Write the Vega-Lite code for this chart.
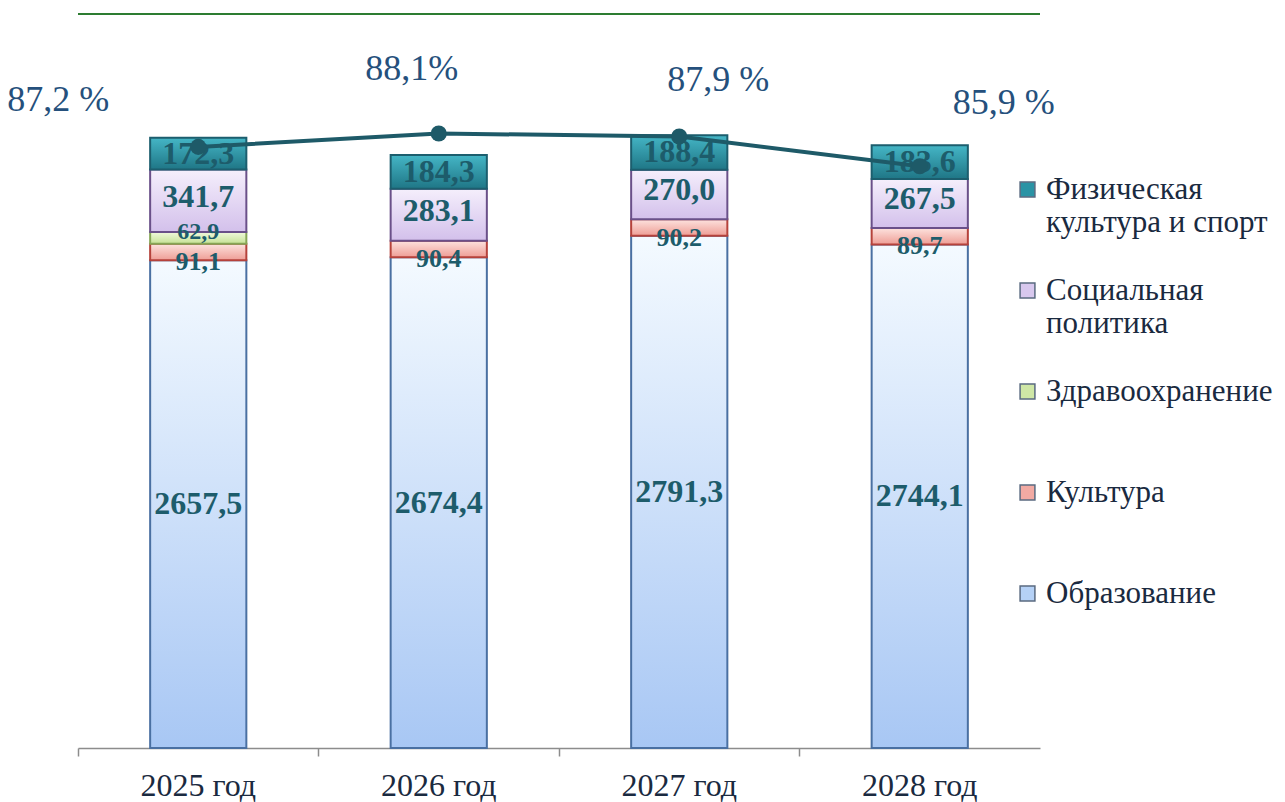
{
  "$schema": "https://vega.github.io/schema/vega-lite/v6.json",
  "width": 962,
  "height": 734,
  "autosize": {"type": "none"},
  "padding": {"left": 78, "top": 14, "right": 245, "bottom": 54},
  "background": "#ffffff",
  "config": {
    "view": {"stroke": null},
    "locale": {"number": {"decimal": ",", "thousands": " ", "grouping": [3], "currency": ["", ""]}},
    "font": "Liberation Serif"
  },
  "datasets": {
    "bars": [
      {"year": "2025 год", "sector": "Образование", "value": 2657.5},
      {"year": "2025 год", "sector": "Культура", "value": 91.1},
      {"year": "2025 год", "sector": "Здравоохранение", "value": 62.9},
      {"year": "2025 год", "sector": "Социальная политика", "value": 341.7},
      {"year": "2025 год", "sector": "Физическая культура и спорт", "value": 172.3},
      {"year": "2026 год", "sector": "Образование", "value": 2674.4},
      {"year": "2026 год", "sector": "Культура", "value": 90.4},
      {"year": "2026 год", "sector": "Социальная политика", "value": 283.1},
      {"year": "2026 год", "sector": "Физическая культура и спорт", "value": 184.3},
      {"year": "2027 год", "sector": "Образование", "value": 2791.3},
      {"year": "2027 год", "sector": "Культура", "value": 90.2},
      {"year": "2027 год", "sector": "Социальная политика", "value": 270.0},
      {"year": "2027 год", "sector": "Физическая культура и спорт", "value": 188.4},
      {"year": "2028 год", "sector": "Образование", "value": 2744.1},
      {"year": "2028 год", "sector": "Культура", "value": 89.7},
      {"year": "2028 год", "sector": "Социальная политика", "value": 267.5},
      {"year": "2028 год", "sector": "Физическая культура и спорт", "value": 183.6}
    ],
    "pct": [
      {"year": "2025 год", "pct": 87.2, "label": "87,2 %"},
      {"year": "2026 год", "pct": 88.1, "label": "88,1%"},
      {"year": "2027 год", "pct": 87.9, "label": "87,9 %"},
      {"year": "2028 год", "pct": 85.9, "label": "85,9 %"}
    ]
  },
  "resolve": {"scale": {"y": "independent"}, "axis": {"y": "independent"}},
  "layer": [
    {
      "data": {"name": "bars"},
      "transform": [
        {"stack": "value", "groupby": ["year"], "as": ["v0", "v1"]},
        {"calculate": "(datum.v0 + datum.v1) / 2", "as": "mid"}
      ],
      "encoding": {
        "x": {
          "field": "year", "type": "nominal", "sort": null,
          "scale": {"paddingInner": 0.6, "paddingOuter": 0.3},
          "axis": {
            "title": null, "labelAngle": 0, "bandPosition": -0.75,
            "domainColor": "#8c8c8c", "domainWidth": 1.5, "tickColor": "#8c8c8c", "tickWidth": 1.5, "tickSize": 8,
            "labelFont": "Liberation Serif", "labelFontSize": 32, "labelColor": "#1a2a40", "labelPadding": 14, "grid": false
          }
        },
        "y": {"field": "v1", "type": "quantitative", "scale": {"domain": [0, 4000], "nice": false}, "axis": null},
        "y2": {"field": "v0"}
      },
      "layer": [
        {
          "mark": {"type": "bar"},
          "encoding": {
            "color": {
              "field": "sector", "type": "nominal",
              "scale": {
                "domain": ["Образование", "Культура", "Здравоохранение", "Социальная политика", "Физическая культура и спорт"],
                "range": ["#b5d1f6", "#f2aaa3", "#cfe7a6", "#d8c8ee", "#2a93a5"]
              },
              "legend": {
                "title": null, "orient": "none", "legendX": 934, "legendY": 160,
                "values": ["Физическая культура и спорт", "Социальная политика", "Здравоохранение", "Культура", "Образование"],
                "symbolType": "square", "symbolSize": 220, "symbolStrokeWidth": 1.5, "symbolStrokeColor": "#5a6a80",
                "labelFont": "Liberation Serif", "labelFontSize": 31, "labelColor": "#1a2a40", "labelLimit": 400,
                "labelOffset": 3, "rowPadding": 36,
                "labelExpr": "datum.label == 'Физическая культура и спорт' ? ['Физическая', 'культура и спорт'] : datum.label == 'Социальная политика' ? ['Социальная', 'политика'] : [datum.label, ' ']"
              }
            }
          }
        },
        {
          "transform": [{"filter": "datum.sector == 'Образование'"}],
          "mark": {"type": "bar", "strokeWidth": 2, "stroke": "#4a70a2",
            "fill": {"gradient": "linear", "x1": 0, "y1": 0, "x2": 0, "y2": 1, "stops": [{"offset": 0, "color": "#f4faff"}, {"offset": 1, "color": "#a8c7f4"}]}}
        },
        {
          "transform": [{"filter": "datum.sector == 'Культура'"}],
          "mark": {"type": "bar", "strokeWidth": 2, "stroke": "#b5423b",
            "fill": {"gradient": "linear", "x1": 0, "y1": 0, "x2": 0, "y2": 1, "stops": [{"offset": 0, "color": "#fde3df"}, {"offset": 1, "color": "#ee9d95"}]}}
        },
        {
          "transform": [{"filter": "datum.sector == 'Здравоохранение'"}],
          "mark": {"type": "bar", "strokeWidth": 2, "stroke": "#86a556",
            "fill": {"gradient": "linear", "x1": 0, "y1": 0, "x2": 0, "y2": 1, "stops": [{"offset": 0, "color": "#f0f9dc"}, {"offset": 1, "color": "#c6e296"}]}}
        },
        {
          "transform": [{"filter": "datum.sector == 'Социальная политика'"}],
          "mark": {"type": "bar", "strokeWidth": 2, "stroke": "#6a5089",
            "fill": {"gradient": "linear", "x1": 0, "y1": 0, "x2": 0, "y2": 1, "stops": [{"offset": 0, "color": "#f5effc"}, {"offset": 1, "color": "#d3c0eb"}]}}
        },
        {
          "transform": [{"filter": "datum.sector == 'Физическая культура и спорт'"}],
          "mark": {"type": "bar", "strokeWidth": 2, "stroke": "#1c5e6e",
            "fill": {"gradient": "linear", "x1": 0, "y1": 0, "x2": 0, "y2": 1, "stops": [{"offset": 0, "color": "#45b6c6"}, {"offset": 1, "color": "#1f7686"}]}}
        },
        {
          "transform": [{"filter": "datum.sector == 'Образование' || datum.sector == 'Физическая культура и спорт'"}],
          "mark": {"type": "text", "font": "Liberation Serif", "fontSize": 32, "fontWeight": "bold", "color": "#1d5c6b", "baseline": "middle"},
          "encoding": {
            "y": {"field": "mid", "type": "quantitative"},
            "y2": null,
            "text": {"field": "value", "type": "quantitative", "format": ".1f"}
          }
        },
        {
          "transform": [{"filter": "datum.sector == 'Социальная политика'"}],
          "mark": {"type": "text", "font": "Liberation Serif", "fontSize": 32, "fontWeight": "bold", "color": "#1d5c6b", "baseline": "middle", "dy": -4},
          "encoding": {
            "y": {"field": "mid", "type": "quantitative"},
            "y2": null,
            "text": {"field": "value", "type": "quantitative", "format": ".1f"}
          }
        },
        {
          "transform": [{"filter": "datum.sector == 'Культура'"}],
          "mark": {"type": "text", "font": "Liberation Serif", "fontSize": 26, "fontWeight": "bold", "color": "#1d5c6b", "baseline": "middle", "dy": 10},
          "encoding": {
            "y": {"field": "mid", "type": "quantitative"},
            "y2": null,
            "text": {"field": "value", "type": "quantitative", "format": ".1f"}
          }
        },
        {
          "transform": [{"filter": "datum.sector == 'Здравоохранение'"}],
          "mark": {"type": "text", "font": "Liberation Serif", "fontSize": 24, "fontWeight": "bold", "color": "#1d5c6b", "baseline": "middle", "dy": -6},
          "encoding": {
            "y": {"field": "mid", "type": "quantitative"},
            "y2": null,
            "text": {"field": "value", "type": "quantitative", "format": ".1f"}
          }
        },
        {
          "mark": {"type": "rule", "color": "#2e7d32", "strokeWidth": 1.5},
          "encoding": {"x": null, "y": {"datum": 4000, "type": "quantitative"}, "y2": null}
        }
      ]
    },
    {
      "data": {"name": "pct"},
      "encoding": {
        "x": {"field": "year", "type": "nominal", "sort": null},
        "y": {"field": "pct", "type": "quantitative", "scale": {"domain": [46.86, 96.12], "nice": false, "zero": false}, "axis": null}
      },
      "layer": [
        {"mark": {"type": "line", "color": "#1e5a68", "strokeWidth": 4}},
        {"mark": {"type": "point", "filled": true, "shape": "circle", "size": 260, "color": "#1e5a68", "opacity": 1}},
        {
          "transform": [{"filter": "datum.year == '2025 год'"}],
          "mark": {"type": "text", "font": "Liberation Serif", "fontSize": 36, "color": "#25507c", "baseline": "middle", "dx": -140, "dy": -47},
          "encoding": {"text": {"field": "label"}}
        },
        {
          "transform": [{"filter": "datum.year == '2026 год'"}],
          "mark": {"type": "text", "font": "Liberation Serif", "fontSize": 36, "color": "#25507c", "baseline": "middle", "dx": -27, "dy": -65},
          "encoding": {"text": {"field": "label"}}
        },
        {
          "transform": [{"filter": "datum.year == '2027 год'"}],
          "mark": {"type": "text", "font": "Liberation Serif", "fontSize": 36, "color": "#25507c", "baseline": "middle", "dx": 39, "dy": -56},
          "encoding": {"text": {"field": "label"}}
        },
        {
          "transform": [{"filter": "datum.year == '2028 год'"}],
          "mark": {"type": "text", "font": "Liberation Serif", "fontSize": 36, "color": "#25507c", "baseline": "middle", "dx": 84, "dy": -63},
          "encoding": {"text": {"field": "label"}}
        }
      ]
    }
  ]
}
